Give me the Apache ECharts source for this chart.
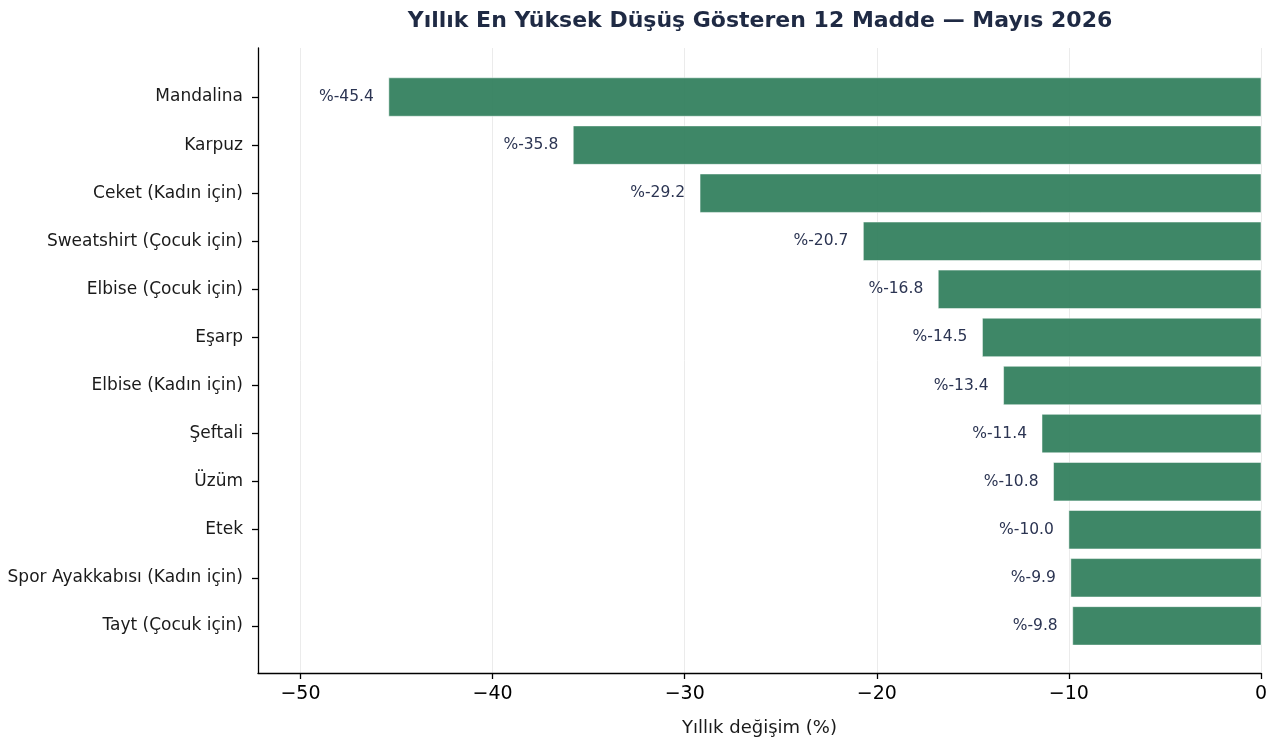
<!DOCTYPE html>
<html><head><meta charset="utf-8">
<script src="https://cdn.jsdelivr.net/npm/echarts@6/dist/echarts.min.js"></script>
<style>html,body{margin:0;padding:0;background:#fff}#c{width:1274px;height:745px}</style>
</head><body><div id="c"></div>
<script>
const categories = ["Mandalina","Karpuz","Ceket (Kadın için)","Sweatshirt (Çocuk için)","Elbise (Çocuk için)","Eşarp","Elbise (Kadın için)","Şeftali","Üzüm","Etek","Spor Ayakkabısı (Kadın için)","Tayt (Çocuk için)"];
const values = [-45.4,-35.8,-29.2,-20.7,-16.8,-14.5,-13.4,-11.4,-10.8,-10.0,-9.9,-9.8];
const xTicks = [-50,-40,-30,-20,-10,0];
const titleText = "Yıllık En Yüksek Düşüş Gösteren 12 Madde — Mayıs 2026";
const xName = "Yıllık değişim (%)";

const FONT = "DejaVu Sans";
const chart = echarts.init(document.getElementById('c'), null, {renderer:'canvas'});
const data = values.map((v,i)=>[v,i]);
const yIdx = categories.map((_,i)=>i);
chart.setOption({
  animation:false,
  title:{text:titleText,left:755,top:5,textAlign:'center',
    textStyle:{fontFamily:FONT,fontWeight:'bold',fontSize:22,color:'#1f2a44'}},
  grid:{left:258,right:13,top:48,bottom:72,containLabel:false},
  xAxis:{type:'value',min:-52.21,max:0,
    name:xName,nameLocation:'middle',nameGap:46,
    nameTextStyle:{fontFamily:FONT,fontSize:18,color:'#1a1a1a'},
    axisLine:{show:true,onZero:false,lineStyle:{color:'#000',width:1.3}},
    axisTick:{show:true,length:6,customValues:xTicks,lineStyle:{color:'#000',width:1.3}},
    axisLabel:{customValues:xTicks,fontFamily:FONT,fontSize:19,color:'#000',margin:12,
      formatter:v=>String(v).replace('-','\u2212')},
    splitLine:{show:true,lineStyle:{color:'#ebebeb',width:1}}
  },
  yAxis:{type:'value',min:-1.02,max:11.98,inverse:true,
    axisLine:{show:true,onZero:false,lineStyle:{color:'#000',width:1.3}},
    axisTick:{show:true,length:6,customValues:yIdx,lineStyle:{color:'#000',width:1.3}},
    axisLabel:{customValues:yIdx,fontFamily:FONT,fontSize:17,color:'#1a1a1a',margin:15,
      formatter:v=>categories[v]||''},
    splitLine:{show:false}
  },
  series:[{type:'custom',data:data,encode:{x:0,y:1},clip:false,
    renderItem:function(params,api){
      const v=api.value(0), i=api.value(1);
      const p0=api.coord([0,i]), p1=api.coord([v,i]);
      const h=api.size([0,0.8])[1];
      return {type:'group',children:[
        {type:'rect',shape:{x:p1[0],y:p0[1]-h/2,width:p0[0]-p1[0],height:h},
          style:{fill:'rgba(46,125,90,0.92)',stroke:'rgba(255,255,255,0.5)',lineWidth:1}},
        {type:'text',x:p1[0]-15,y:p0[1],
          style:{text:'%'+v.toFixed(1),align:'right',verticalAlign:'middle',
            fill:'#2b3452',font:'15.5px "'+FONT+'"'}}
      ]};
    }
  }]
});
</script></body></html>
